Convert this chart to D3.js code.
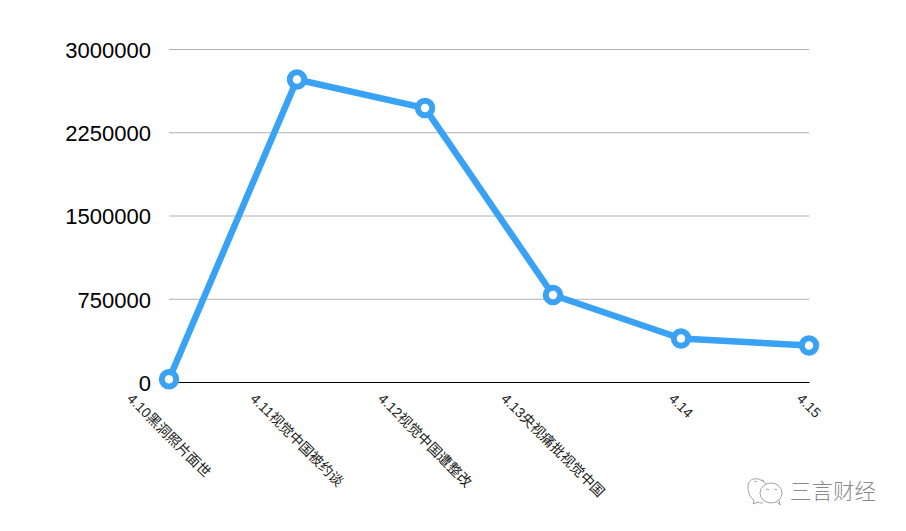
<!DOCTYPE html>
<html lang="zh">
<head>
  <meta charset="UTF-8">
  <title>Chart</title>
  <style>
    * { margin: 0; padding: 0; }
    body { background: #fff; }
    svg { display: block; }
    text { font-family: "Liberation Sans", "Noto Sans CJK SC", sans-serif; fill: #000; }
  </style>
</head>
<body>
  <script src="https://d3js.org/d3.v7.min.js"></script>
  <script>
    const categories = ['4.10黑洞照片面世', '4.11视觉中国被约谈', '4.12视觉中国遭整改', '4.13央视痛批视觉中国', '4.14', '4.15'];
    const values = [25000, 2725000, 2468000, 784000, 392000, 329000];
    const yTicks = [0, 750000, 1500000, 2250000, 3000000];

    const width = 906;
    const height = 531;
    const padding = { left: 169, right: 97, top: 49, bottom: 149 };
    const blue = '#39a2f4';

    const svg = d3.select('body').append('svg')
      .attr('width', width)
      .attr('height', height);

    const xScale = d3.scalePoint()
      .domain(categories)
      .range([padding.left, width - padding.right]);

    const yScale = d3.scaleLinear()
      .domain([0, 3000000])
      .range([height - padding.bottom, padding.top]);

    // y axis with the grey grid lines
    const yAxis = d3.axisLeft(yScale)
      .tickValues(yTicks)
      .tickSize(-(width - padding.left - padding.right))
      .tickPadding(18)
      .tickFormat(d3.format('d'));

    const yG = svg.append('g')
      .attr('transform', `translate(${padding.left}, 0)`)
      .call(yAxis);
    yG.select('.domain').remove();
    yG.selectAll('line').attr('stroke', '#b0b0b0').attr('stroke-width', 1);
    yG.selectAll('text').style('font-size', '22px').attr('dy', '0.38em');

    // x axis, labels are centred on the tick and turned 45deg
    const xAxis = d3.axisBottom(xScale).tickSize(0).tickFormat('');
    const xG = svg.append('g')
      .attr('transform', `translate(0, ${height - padding.bottom})`)
      .call(xAxis);
    xG.select('.domain').attr('stroke', '#000').attr('stroke-width', 1);

    const labels = svg.append('g').selectAll('text')
      .data(categories)
      .enter()
      .append('text')
      .attr('text-anchor', 'middle')
      .attr('dy', '0.35em')
      .style('font-size', '14px')
      .style('fill', '#222')
      .text(d => d);

    labels.attr('transform', function (d) {
      const half = this.getComputedTextLength() / 2 * Math.SQRT1_2;
      return `translate(${xScale(d)}, ${396 + half}) rotate(45)`;
    });

    // line and ring markers
    const line = d3.line()
      .x((d, i) => xScale(categories[i]))
      .y(d => yScale(d));

    svg.append('path')
      .datum(values)
      .attr('fill', 'none')
      .attr('stroke', blue)
      .attr('stroke-width', 6.5)
      .attr('stroke-linejoin', 'round')
      .attr('d', line);

    svg.append('g').selectAll('circle')
      .data(values)
      .enter()
      .append('circle')
      .attr('cx', (d, i) => xScale(categories[i]))
      .attr('cy', d => yScale(d))
      .attr('r', 7.25)
      .attr('fill', '#fff')
      .attr('stroke', blue)
      .attr('stroke-width', 6);

    // watermark bottom right
    const mark = svg.append('g').attr('fill', '#fff').attr('stroke', '#999').attr('stroke-width', 0.9);
    mark.append('path').attr('d', 'M768 487 C763 477 748 475 748 487 C748 494 751 498 754 500 L753 504 L758 502 C760 503 762 503 763 503');
    mark.append('ellipse').attr('cx', 771).attr('cy', 493).attr('rx', 11).attr('ry', 10);
    mark.append('path').attr('d', 'M777 502 L780 505 L779 500');
    mark.append('path').attr('d', 'M766 490 L767.5 489 L769 490 M774 490 L775.5 489 L777 490 M754 482 L755.5 481 L757 482 M761 481 L762.5 480 L764 481').attr('fill', 'none');

    svg.append('text')
      .attr('x', 790)
      .attr('y', 499)
      .style('font-size', '21.5px')
      .style('fill', '#8a8a8a')
      .style('font-weight', 300)
      .text('三言财经');
  </script>
</body>
</html>
